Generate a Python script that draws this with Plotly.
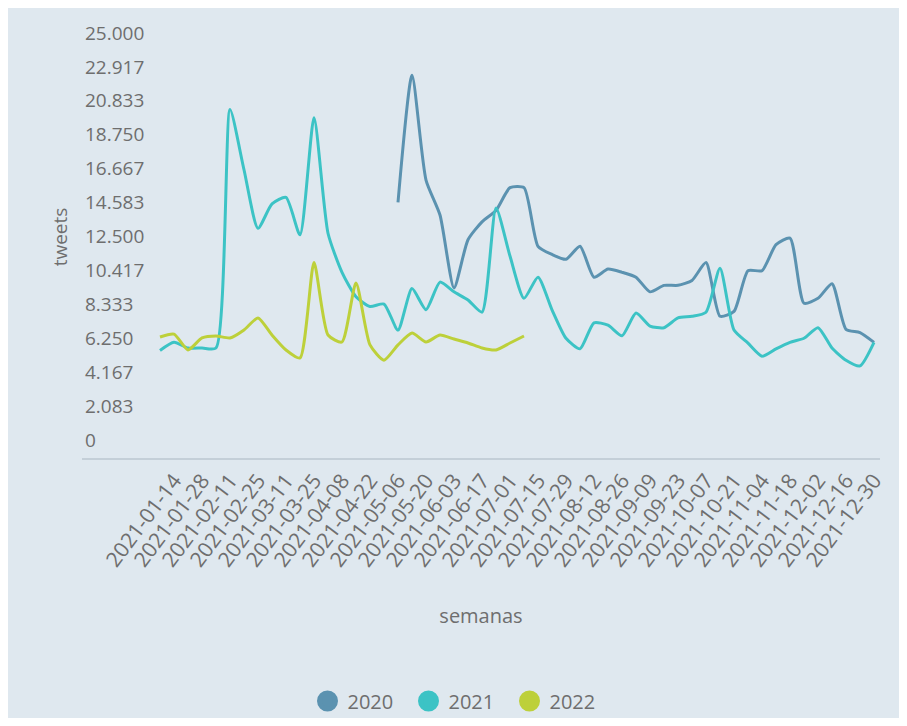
import plotly.graph_objects as go

weeks = ["2021-01-07","2021-01-14","2021-01-21","2021-01-28","2021-02-04","2021-02-11","2021-02-18","2021-02-25",
         "2021-03-04","2021-03-11","2021-03-18","2021-03-25","2021-04-01","2021-04-08","2021-04-15","2021-04-22",
         "2021-04-29","2021-05-06","2021-05-13","2021-05-20","2021-05-27","2021-06-03","2021-06-10","2021-06-17",
         "2021-06-24","2021-07-01","2021-07-08","2021-07-15","2021-07-22","2021-07-29","2021-08-05","2021-08-12",
         "2021-08-19","2021-08-26","2021-09-02","2021-09-09","2021-09-16","2021-09-23","2021-09-30","2021-10-07",
         "2021-10-14","2021-10-21","2021-10-28","2021-11-04","2021-11-11","2021-11-18","2021-11-25","2021-12-02",
         "2021-12-09","2021-12-16","2021-12-23","2021-12-30"]

tweets_2020 = [None]*17 + [14600, 22400, 15970, 13820, 9340, 12300, 13400, 14100, 15500, 15500,
                           11900, 11400, 11100, 11900, 10000, 10500, 10300, 10000, 9100, 9500,
                           9500, 9800, 10900, 7600, 7900, 10400, 10400, 12000, 12400, 8400,
                           8700, 9600, 6800, 6600, 6000]

tweets_2021 = [5500, 6000, 5650, 5650, 5650, 20300, 16600, 13000, 14500, 14900,
               12600, 19800, 12700, 10300, 8800, 8200, 8350, 6750, 9300, 8000,
               9700, 9100, 8600, 7850, 14250, 11300, 8700, 10000, 8000, 6250,
               5600, 7200, 7050, 6400, 7800, 7000, 6900, 7500, 7600, 7850,
               10550, 6750, 5950, 5150, 5600, 6000, 6250, 6900, 5650, 4900,
               4550, 6000]

tweets_2022 = [6330, 6500, 5530, 6270, 6390, 6270, 6760, 7500, 6450, 5530,
               5040, 10900, 6450, 6020, 9650, 5840, 4900, 5840, 6570, 6020,
               6450, 6200, 5960, 5650, 5530, 5960, 6390]

tick_dates = ["2021-01-14","2021-01-28","2021-02-11","2021-02-25","2021-03-11","2021-03-25","2021-04-08",
              "2021-04-22","2021-05-06","2021-05-20","2021-06-03","2021-06-17","2021-07-01","2021-07-15",
              "2021-07-29","2021-08-12","2021-08-26","2021-09-09","2021-09-23","2021-10-07","2021-10-21",
              "2021-11-04","2021-11-18","2021-12-02","2021-12-16","2021-12-30"]

y_tickvals = [0, 2083.33, 4166.67, 6250, 8333.33, 10416.67, 12500, 14583.33, 16666.67, 18750, 20833.33, 22916.67, 25000]
y_ticktext = ["0", "2.083", "4.167", "6.250", "8.333", "10.417", "12.500", "14.583", "16.667", "18.750", "20.833", "22.917", "25.000"]

series = [("2020", tweets_2020, "#5b92b0"),
          ("2021", tweets_2021, "#3cc3c5"),
          ("2022", tweets_2022, "#bdd03a")]

FONT = "Open Sans, DejaVu Sans, sans-serif"
GREY = "#6e6e6e"
BG = "#dfe8ef"

fig = go.Figure()
for name, vals, color in series:
    fig.add_trace(go.Scatter(
        x=weeks[:len(vals)], y=vals, mode="lines", name=name,
        line=dict(color=color, width=3, shape="spline", smoothing=0.6),
        connectgaps=False, showlegend=False, hoverinfo="x+y+name"))
for name, vals, color in series:
    fig.add_trace(go.Scatter(
        x=[None], y=[None], mode="markers", name=name,
        marker=dict(color=color, size=16, symbol="circle", line=dict(color=color, width=5)),
        showlegend=True))

# page has an 8px body margin; figure fills the rest of the 907x726 window
W, H = 891, 710
L, R, T, B = 74, 19, 8, 260
pw, ph = W - L - R, H - T - B
# y scale in figure pixels: value 0 at 432, 25000 at 25
px_per_unit = (432 - 25) / 25000
y_top = (432 - T) / px_per_unit
y_bot = (432 - (H - B)) / px_per_unit

fig.update_layout(
    width=W, height=H,
    margin=dict(l=L, r=R, t=T, b=B, autoexpand=False),
    paper_bgcolor=BG,
    plot_bgcolor=BG,
    font=dict(family=FONT, color=GREY),
    xaxis=dict(
        type="date",
        range=["2020-11-29", "2022-01-02"],
        tickvals=tick_dates, ticktext=tick_dates,
        tickangle=-53,
        tickfont=dict(size=21, color=GREY, family=FONT),
        showgrid=False, zeroline=False,
        showline=True, linecolor="#c4cfd8", linewidth=2,
        ticks="", automargin=False,
        title=dict(text="semanas", font=dict(size=20, color=GREY, family=FONT), standoff=38),
    ),
    yaxis=dict(
        range=[y_bot, y_top],
        tickvals=y_tickvals, ticktext=y_ticktext,
        ticklabelposition="inside",
        tickfont=dict(size=19, color=GREY, family=FONT),
        showgrid=False, zeroline=False, showline=False, ticks="",
        automargin=False,
        title=dict(text="tweets", font=dict(size=19, color=GREY, family=FONT), standoff=12),
    ),
    legend=dict(orientation="h", x=(451 - L) / pw, xanchor="center",
                y=(T + ph - 693) / ph, yanchor="middle",
                entrywidth=56, entrywidthmode="pixels",
                font=dict(size=20, color=GREY, family=FONT),
                bgcolor="rgba(0,0,0,0)", itemsizing="trace"),
)

fig.write_html("out.html")
